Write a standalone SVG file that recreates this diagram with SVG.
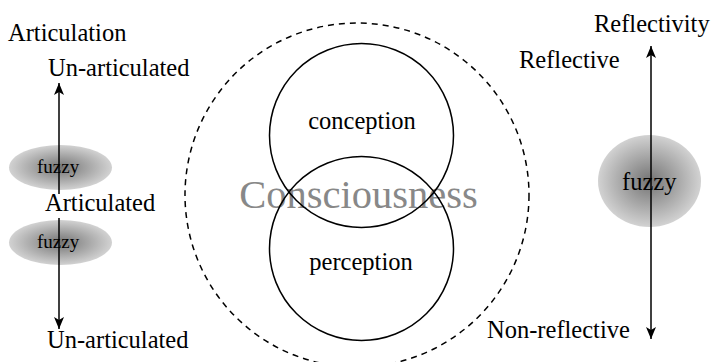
<svg xmlns="http://www.w3.org/2000/svg" width="712" height="362" viewBox="0 0 712 362">
<style>
  text { font-family: 'Liberation Serif', 'Times New Roman', Times, serif; fill: #000; }
  .lbl { font-size: 24.5px; }
  .fz { font-size: 19px; }
  .ring { fill: none; stroke: #000; stroke-width: 1.5; }
  .axis { stroke: #000; stroke-width: 1.5; fill: none; }
</style>
<defs>
  <radialGradient id="fuzzyGrad" cx="50%" cy="50%" r="50%">
    <stop offset="0" stop-color="#747474"/>
    <stop offset="1" stop-color="#d2d2d2"/>
  </radialGradient>
  <marker id="arrow" viewBox="-13 -6 14 12" refX="0" refY="0" markerWidth="14" markerHeight="12" markerUnits="userSpaceOnUse" orient="auto-start-reverse">
    <path d="M0,0 L-12,-5 L-9,0 L-12,5 Z" fill="#000"/>
  </marker>
</defs>

<g id="consciousness">
  <circle cx="357" cy="195" r="172" fill="none" stroke="#000" stroke-width="1.5" stroke-dasharray="6,5"/>
  <text x="358.5" y="208" text-anchor="middle" style="font-size:40.5px;fill:#888">Consciousness</text>
</g>

<g id="conception">
  <circle class="ring" cx="361.5" cy="135.5" r="92"/>
  <text class="lbl" x="362" y="129" text-anchor="middle">conception</text>
</g>

<g id="perception">
  <circle class="ring" cx="361.5" cy="248.5" r="92"/>
  <text class="lbl" x="361" y="270" text-anchor="middle">perception</text>
</g>

<g id="fuzzy-left-1">
  <ellipse cx="60.5" cy="167.5" rx="51.5" ry="22.5" fill="url(#fuzzyGrad)"/>
  <text class="fz" x="37" y="173">fuzzy</text>
</g>
<g id="fuzzy-left-2">
  <ellipse cx="60.5" cy="242.5" rx="51.5" ry="22.5" fill="url(#fuzzyGrad)"/>
  <text class="fz" x="37" y="248">fuzzy</text>
</g>
<g id="fuzzy-right">
  <ellipse cx="649.5" cy="181" rx="51.5" ry="46" fill="url(#fuzzyGrad)"/>
  <text class="lbl" x="622" y="190">fuzzy</text>
</g>

<g id="connectors">
  <path class="axis" d="M59,194 L59,83" marker-end="url(#arrow)"/>
  <path class="axis" d="M59,218 L59,329" marker-end="url(#arrow)"/>
  <path class="axis" d="M651,46 L651,339" marker-start="url(#arrow)" marker-end="url(#arrow)"/>
</g>

<g id="labels-articulation">
  <text class="lbl" x="8" y="41">Articulation</text>
  <text class="lbl" x="48" y="76">Un-articulated</text>
  <text class="lbl" x="45" y="211">Articulated</text>
  <text class="lbl" x="47" y="348">Un-articulated</text>
</g>

<g id="labels-reflectivity">
  <text class="lbl" x="594" y="32">Reflectivity</text>
  <text class="lbl" x="519" y="68">Reflective</text>
  <text class="lbl" x="487" y="338">Non-reflective</text>
</g>
</svg>
